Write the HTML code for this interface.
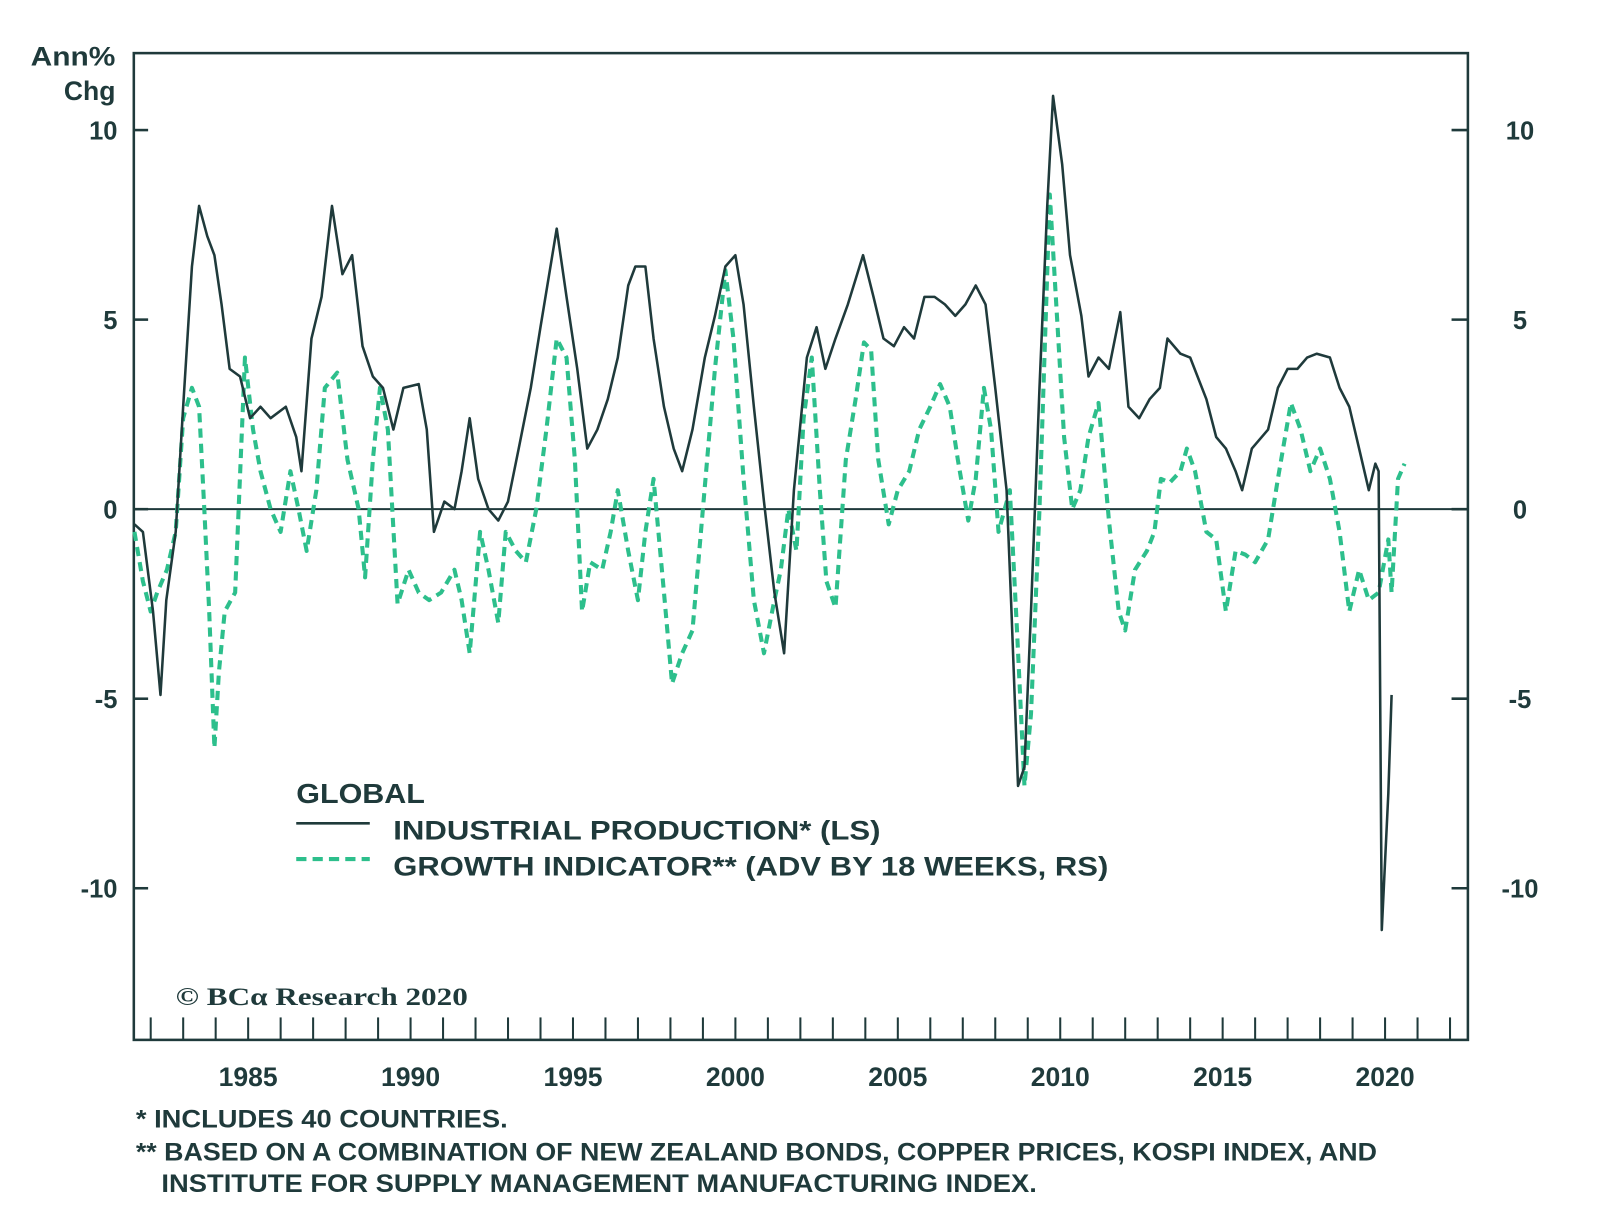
<!DOCTYPE html>
<html><head><meta charset="utf-8"><style>
body{margin:0;background:#fff;width:1600px;height:1218px;overflow:hidden}
svg text{font-family:"Liberation Sans",sans-serif;font-weight:bold;fill:#1f3a3b}
</style></head><body>
<svg id="chart" width="1600" height="1218" xmlns="http://www.w3.org/2000/svg">
<g transform="scale(1.0215)">
<rect x="131" y="52" width="1306" height="966" fill="none" stroke="#1f3a3b" stroke-width="2.5"/>
<g id="axes"></g>
<g id="series"></g>
<text x="113" y="64" font-size="26" text-anchor="end" textLength="83" lengthAdjust="spacingAndGlyphs">Ann%</text>
<text x="113" y="98" font-size="26" text-anchor="end">Chg</text>
<g>
<text x="290" y="786" font-size="27" textLength="126" lengthAdjust="spacingAndGlyphs">GLOBAL</text>
<line x1="290" y1="806" x2="362" y2="806" stroke="#1f3a3b" stroke-width="2.5"/>
<text x="385" y="822" font-size="26" textLength="477" lengthAdjust="spacingAndGlyphs">INDUSTRIAL PRODUCTION* (LS)</text>
<line x1="290" y1="841" x2="362" y2="841" stroke="#2dbf8c" stroke-width="4" stroke-dasharray="10,6"/>
<text x="385" y="857" font-size="26" textLength="700" lengthAdjust="spacingAndGlyphs">GROWTH INDICATOR** (ADV BY 18 WEEKS, RS)</text>
</g>
<text x="172" y="984" font-size="25" font-weight="normal" style="font-family:'Liberation Serif',serif" textLength="286" lengthAdjust="spacingAndGlyphs">© BCα Research 2020</text>
<text x="133" y="1104" font-size="24" textLength="364" lengthAdjust="spacingAndGlyphs">*  INCLUDES 40 COUNTRIES.</text>
<text x="133" y="1136" font-size="24" textLength="1215" lengthAdjust="spacingAndGlyphs">** BASED ON A COMBINATION OF NEW ZEALAND BONDS, COPPER PRICES, KOSPI INDEX, AND</text>
<text x="158" y="1167" font-size="24" textLength="857" lengthAdjust="spacingAndGlyphs">INSTITUTE FOR SUPPLY MANAGEMENT MANUFACTURING INDEX.</text>
</g>
</svg>
<script>
const yTicks=[10,5,0,-5,-10];
const xLabels=[1985,1990,1995,2000,2005,2010,2015,2020];
const ipYears=[1981.5,1981.76,1982.07,1982.3,1982.48,1982.77,1983.0,1983.27,1983.49,1983.74,1983.96,1984.18,1984.43,1984.75,1985.06,1985.38,1985.69,1986.16,1986.48,1986.64,1986.95,1987.26,1987.58,1987.9,1988.2,1988.52,1988.84,1989.15,1989.47,1989.78,1990.25,1990.5,1990.72,1991.04,1991.35,1991.57,1991.82,1992.08,1992.4,1992.7,1993.0,1993.33,1993.7,1994.0,1994.5,1994.8,1995.13,1995.44,1995.75,1996.07,1996.38,1996.7,1996.92,1997.23,1997.48,1997.8,1998.1,1998.36,1998.68,1999.06,1999.37,1999.69,2000.0,2000.25,2000.57,2000.88,2001.2,2001.5,2001.8,2002.2,2002.5,2002.77,2003.08,2003.46,2003.93,2004.25,2004.56,2004.88,2005.19,2005.5,2005.82,2006.13,2006.45,2006.77,2007.08,2007.4,2007.7,2008.0,2008.35,2008.5,2008.7,2008.9,2009.1,2009.36,2009.6,2009.78,2010.06,2010.3,2010.65,2010.87,2011.18,2011.5,2011.85,2012.1,2012.43,2012.75,2013.07,2013.3,2013.7,2014.0,2014.5,2014.8,2015.1,2015.4,2015.6,2015.9,2016.4,2016.7,2017.0,2017.3,2017.6,2017.9,2018.3,2018.6,2018.9,2019.2,2019.5,2019.7,2019.8,2019.9,2020.1,2020.2];
const ipValues=[-0.4,-0.6,-2.7,-4.9,-2.4,-0.6,2.7,6.4,8.0,7.2,6.7,5.4,3.7,3.5,2.4,2.7,2.4,2.7,1.9,1.0,4.5,5.6,8.0,6.2,6.7,4.3,3.5,3.2,2.1,3.2,3.3,2.1,-0.6,0.2,0,1.0,2.4,0.8,0,-0.3,0.2,1.6,3.2,4.8,7.4,5.6,3.7,1.6,2.1,2.9,4.0,5.9,6.4,6.4,4.5,2.7,1.6,1.0,2.1,4.0,5.1,6.4,6.7,5.4,2.7,0.2,-2.2,-3.8,0.5,4.0,4.8,3.7,4.5,5.4,6.7,5.6,4.5,4.3,4.8,4.5,5.6,5.6,5.4,5.1,5.4,5.9,5.4,3.2,0.5,-2.7,-7.3,-6.8,-2.7,3.2,8.0,10.9,9.1,6.7,5.1,3.5,4.0,3.7,5.2,2.7,2.4,2.9,3.2,4.5,4.1,4.0,2.9,1.9,1.6,1.0,0.5,1.6,2.1,3.2,3.7,3.7,4.0,4.1,4.0,3.2,2.7,1.6,0.5,1.2,1.0,-11.1,-7.5,-4.9];
const giYears=[1981.5,1981.76,1982.0,1982.2,1982.5,1982.77,1983.0,1983.27,1983.49,1983.65,1983.8,1983.96,1984.1,1984.28,1984.6,1984.9,1985.15,1985.38,1985.69,1986.0,1986.3,1986.55,1986.8,1987.1,1987.36,1987.74,1988.06,1988.4,1988.6,1988.84,1989.06,1989.3,1989.6,1989.94,1990.25,1990.57,1990.94,1991.35,1991.57,1991.82,1992.14,1992.4,1992.7,1992.93,1993.24,1993.55,1993.87,1994.18,1994.5,1994.8,1995.06,1995.28,1995.53,1995.9,1996.16,1996.38,1996.7,1997.0,1997.23,1997.48,1997.8,1998.05,1998.36,1998.68,1999.0,1999.37,1999.69,1999.94,2000.25,2000.57,2000.88,2001.2,2001.4,2001.63,2001.88,2002.1,2002.35,2002.6,2002.8,2003.08,2003.4,2003.7,2003.96,2004.18,2004.4,2004.72,2005.0,2005.35,2005.66,2006.0,2006.3,2006.6,2006.85,2007.17,2007.4,2007.65,2007.87,2008.1,2008.45,2008.67,2008.9,2009.1,2009.36,2009.68,2009.9,2010.12,2010.37,2010.62,2010.87,2011.18,2011.5,2011.8,2012.0,2012.3,2012.67,2012.9,2013.1,2013.37,2013.7,2013.9,2014.15,2014.5,2014.8,2015.1,2015.4,2015.7,2016.0,2016.4,2016.7,2017.1,2017.4,2017.7,2018.0,2018.3,2018.6,2018.9,2019.2,2019.5,2019.8,2020.1,2020.2,2020.4,2020.6];
const giValues=[-0.6,-1.9,-2.7,-2.2,-1.6,-0.6,2.4,3.2,2.7,0,-2.7,-6.3,-4.3,-2.7,-2.2,4.0,2.1,1.0,0,-0.6,1.0,0,-1.1,0.5,3.2,3.6,1.3,0,-1.8,1.3,3.2,2.1,-2.5,-1.6,-2.2,-2.4,-2.2,-1.6,-2.4,-3.8,-0.6,-1.6,-3.0,-0.6,-1.1,-1.4,0,2.1,4.5,4.0,1.3,-2.7,-1.4,-1.6,-0.6,0.5,-1.1,-2.4,-0.6,0.8,-2.2,-4.6,-3.8,-3.2,0,3.7,6.3,4.5,0.8,-2.4,-3.8,-2.4,-1.6,0,-1.1,2.4,4.0,0.5,-1.9,-2.6,1.3,2.9,4.4,4.2,1.3,-0.4,0.5,1.0,2.1,2.7,3.3,2.7,1.3,-0.3,0.8,3.2,2.1,-0.6,0.5,-3.2,-7.3,-5.4,0,8.3,5.1,1.9,0,0.5,1.9,2.8,-0.3,-2.7,-3.2,-1.6,-1.1,-0.6,0.8,0.7,1.0,1.6,1.0,-0.6,-0.8,-2.7,-1.1,-1.2,-1.4,-0.8,0.8,2.8,2.1,1.0,1.6,0.8,-0.6,-2.7,-1.6,-2.4,-2.2,-0.8,-2.2,0.8,1.2];
const NS='http://www.w3.org/2000/svg';
const X0=131,X1=1437,Y0=52,Y1=1018,yrMin=1981.48,yrMax=2022.55,vMin=-14,vMax=12.03;
const xs=y=>X0+(y-yrMin)/(yrMax-yrMin)*(X1-X0);
const ys=v=>Y1-(v-vMin)/(vMax-vMin)*(Y1-Y0);
const axes=document.getElementById('axes'),series=document.getElementById('series');
function mk(tag,attrs,parent){const e=document.createElementNS(NS,tag);for(const k in attrs)e.setAttribute(k,attrs[k]);parent.appendChild(e);return e;}
yTicks.forEach(v=>{
 const y=ys(v);
 const l=mk('line',{x1:X0,x2:X0+14,y1:y,y2:y,stroke:'#1f3a3b','stroke-width':2.5},axes);
 
 
 const r=mk('line',{x1:X1-16,x2:X1,y1:y,y2:y,stroke:'#1f3a3b','stroke-width':2.5},axes);
 
 
 const t=mk('text',{x:115,y:y+9,'font-size':25,'text-anchor':'end'},axes);t.textContent=v;
 
 
 const t2=mk('text',{x:1488,y:y+9,'font-size':25,'text-anchor':'middle'},axes);t2.textContent=v;
 
 
});
const z=mk('line',{x1:X0,x2:X1,y1:ys(0),y2:ys(0),stroke:'#1f3a3b','stroke-width':2},axes);


for(let yr=1982;yr<=2022;yr++){
 const x=xs(yr);
 const tk=mk('line',{x1:x,x2:x,y1:Y1-22,y2:Y1,stroke:'#1f3a3b','stroke-width':2},axes);
 
 
}
xLabels.forEach(yr=>{
 const t=mk('text',{x:xs(yr),y:1063,'font-size':26,'text-anchor':'middle'},axes);t.textContent=yr;
 
 
});
function line(years,vals,attrs){
 const d=years.map((y,i)=>(i?'L':'M')+xs(y).toFixed(1)+','+ys(vals[i]).toFixed(1)).join('');
 return mk('path',Object.assign({d:d,fill:'none','stroke-linejoin':'round'},attrs),series);
}
const g=line(giYears,giValues,{stroke:'#2dbf8c','stroke-width':4,'stroke-dasharray':'9,6'});


const p=line(ipYears,ipValues,{stroke:'#1f3a3b','stroke-width':2.5});


</script>
</body></html>
